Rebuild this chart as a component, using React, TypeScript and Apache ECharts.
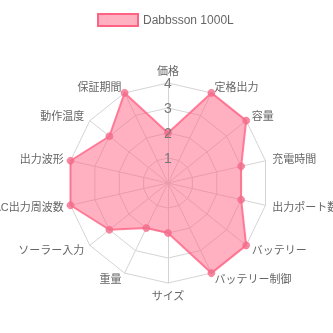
import React, { useEffect, useRef } from "react";
import * as echarts from "echarts";

const indicators = [
  "価格", "定格出力", "容量", "充電時間", "出力ポート数", "バッテリー", "バッテリー制御",
  "サイズ", "重量", "ソーラー入力", "AC出力周波数", "出力波形", "動作温度", "保証期間",
];
const seriesName = "Dabbsson 1000L";
const values = [2, 4, 4, 3, 3, 4, 4, 2, 2, 3, 4, 4, 3, 4];
const maxValue = 4;
const tickStep = 1;

// ECharts radar runs counter-clockwise; reorder so the chart reads clockwise from the top
const clockwise = <T,>(arr: T[]): T[] => [arr[0], ...arr.slice(1).reverse()];

export default function App() {
  const ref = useRef<HTMLDivElement>(null);
  useEffect(() => {
    if (!ref.current) return;
    const chart = echarts.init(ref.current, null, { renderer: "svg" });
    const font = "'Liberation Sans', 'Noto Sans CJK JP', sans-serif";
    chart.setOption({
      animation: false,
      textStyle: { fontFamily: font },
      legend: {
        data: [seriesName],
        top: 8,
        left: 92,
        icon: "rect",
        itemWidth: 40,
        itemHeight: 12,
        itemGap: 6,
        textStyle: { color: "#666", fontSize: 12, fontFamily: font },
        itemStyle: { color: "rgba(255,99,132,0.5)", borderColor: "rgb(255,99,132)", borderWidth: 2 },
      },
      radar: {
        center: [168, 183],
        radius: 100,
        startAngle: 90,
        shape: "polygon",
        splitNumber: 4,
        nameGap: 7,
        axisName: { color: "#666", fontSize: 11, fontFamily: font },
        splitLine: { lineStyle: { color: "#d4d4d4", width: 1 } },
        splitArea: { show: false },
        axisLine: { lineStyle: { color: "#d4d4d4", width: 1 } },
        indicator: clockwise(indicators).map((n) => ({ name: n, max: maxValue, min: 0 })),
      },
      polar: { center: [168, 183], radius: 100 },
      angleAxis: { show: false, startAngle: 90, min: 0, max: 360 },
      radiusAxis: {
        min: 0,
        max: maxValue,
        interval: tickStep,
        axisLine: { show: false },
        axisTick: { show: false },
        splitLine: { show: false },
        axisLabel: { show: true, showMinLabel: false, color: "#777", fontSize: 14, margin: 0, align: "center", verticalAlign: "middle", fontFamily: font },
        z: 10,
      },
      series: [
        {
          name: seriesName,
          type: "radar",
          symbol: "circle",
          symbolSize: 7,
          lineStyle: { color: "rgb(255,99,132)", width: 2, opacity: 0.8 },
          itemStyle: { color: "rgba(240,110,140,0.8)", borderColor: "rgba(255,99,132,0.6)", borderWidth: 1 },
          areaStyle: { color: "rgba(255,99,132,0.5)", opacity: 1 },
          data: [{ value: clockwise(values), name: seriesName }],
        },
      ],
    });
    return () => chart.dispose();
  }, []);
  return <div ref={ref} style={{ position: "fixed", left: 0, top: 0, width: 333, height: 333 }} />;
}
